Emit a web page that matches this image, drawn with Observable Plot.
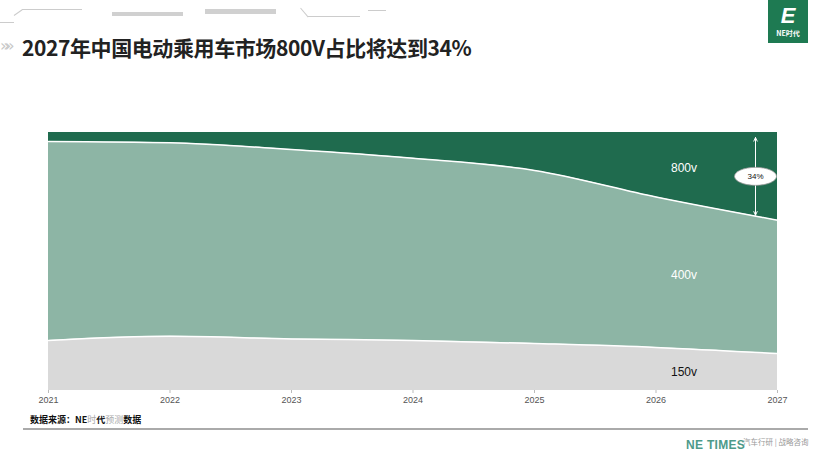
<!DOCTYPE html>
<html>
<head>
<meta charset="utf-8">
<script src="https://cdn.jsdelivr.net/npm/d3@7"></script>
<script src="https://cdn.jsdelivr.net/npm/@observablehq/plot@0.6"></script>
<style>
  html, body { margin: 0; padding: 0; background: #fff; }
  #page { position: relative; width: 831px; height: 468px; overflow: hidden; font-family: "Liberation Sans", Arial, "Noto Sans CJK SC", sans-serif; }
  .abs { position: absolute; }
  #chart { position: absolute; left: 0; top: 120px; }
  #chart [aria-label^="x-axis"] line, #chart [aria-label^="x-axis"] path { stroke: #bbb; }
</style>
</head>
<body>
<div id="page">
  <!-- decorative top strokes -->
  <div class="abs" style="left:0;top:22px;width:14px;height:1px;background:#ccc;"></div>
  <div class="abs" style="left:14px;top:15px;width:10px;height:1px;background:#ccc;transform:rotate(-35deg);transform-origin:left;"></div>
  <div class="abs" style="left:22px;top:9px;width:60px;height:1px;background:#ccc;"></div>
  <div class="abs" style="left:112px;top:12px;width:71px;height:4px;background:#d0d0d0;"></div>
  <div class="abs" style="left:205px;top:9px;width:71px;height:5px;background:#d0d0d0;"></div>
  <div class="abs" style="left:300px;top:8px;width:1px;height:12px;background:#ccc;transform:rotate(-40deg);transform-origin:top;"></div>
  <div class="abs" style="left:308px;top:16px;width:52px;height:1px;background:#ccc;"></div>
  <div class="abs" style="left:368px;top:10px;width:18px;height:1px;background:#ccc;"></div>

  <!-- logo -->
  <div class="abs" style="left:768px;top:0;width:40px;height:43px;background:#1e7a52;color:#fff;text-align:center;">
    <div style="font:italic bold 22px 'Liberation Sans',Arial,sans-serif;line-height:26px;margin-top:3px;">E</div>
    <div style="font:bold 7px 'Noto Sans CJK SC',sans-serif;line-height:9px;">NE时代</div>
  </div>

  <!-- title -->
  <div class="abs" style="left:0;top:36px;font:16px 'DejaVu Sans',sans-serif;color:#c8c8c8;letter-spacing:-5px;">»»</div>
  <div class="abs" style="left:22px;top:32px;font:bold 21px 'Noto Sans CJK SC',sans-serif;color:#222;letter-spacing:-0.4px;white-space:nowrap;">2027年中国电动乘用车市场800V占比将达到34%</div>

  <div id="chart"></div>

  <!-- source -->
  <div class="abs" style="left:30px;top:413px;font:bold 9px 'Noto Sans CJK SC',sans-serif;color:#111;white-space:nowrap;">数据来源：NE<span style="color:#aaa;font-weight:normal;">时</span>代<span style="color:#aaa;font-weight:normal;">预测</span>数据</div>
  <div class="abs" style="left:23px;top:428px;width:785px;height:1.5px;background:#aaa;"></div>

  <!-- footer brand -->
  <div class="abs" style="left:686px;top:438px;font:bold 12px 'Liberation Sans',Arial,sans-serif;color:#4d9a8a;white-space:nowrap;letter-spacing:0.3px;">NE TIMES</div>
  <div class="abs" style="left:743px;top:436px;font:7.5px 'Noto Sans CJK SC',sans-serif;color:#999;white-space:nowrap;">汽车行研 | 战略咨询</div>
</div>
<script>
// ---- data ----
const years = [2021, 2022, 2023, 2024, 2025, 2026, 2027];
const types = ["150v", "400v", "800v"];
const share150 = [19.4, 21.0, 20.0, 19.4, 18.2, 16.7, 14.3];
const share400 = [77.1, 75.0, 73.4, 70.6, 67.1, 58.3, 51.7];
const share800 = [3.5, 4.0, 6.6, 10.0, 14.7, 25.0, 34.0];
const colors = ["#d9d9d9", "#8db5a5", "#1f6b4e"];
const labelColors = ["#111", "#fff", "#fff"];
const labelYear = 2026;

// ---- derived tables ----
const seriesValues = [share150, share400, share800];
const data = types.flatMap((t, i) => years.map((y, j) => ({year: y, type: t, share: seriesValues[i][j]})));

const cum1 = years.map((y, j) => ({year: y, k: "a", v: share150[j]}));
const cum2 = years.map((y, j) => ({year: y, k: "b", v: share150[j] + share400[j]}));
const bounds = cum1.concat(cum2);

const li = years.indexOf(labelYear);
let base = 0;
const labels = types.map((t, i) => {
  const v = seriesValues[i][li];
  const o = {year: labelYear, type: t, y: base + v / 2, color: labelColors[i]};
  base += v;
  return o;
});

const lastYear = years[years.length - 1];
const last800 = share800[share800.length - 1];
const midNote = 100 - last800 / 2;
const note = [{year: lastYear, y: midNote, text: `${last800}%`}];

const ellipse = {
  draw(ctx) {
    const rx = 21, ry = 9, k = 0.5523;
    ctx.moveTo(rx, 0);
    ctx.bezierCurveTo(rx, ry * k, rx * k, ry, 0, ry);
    ctx.bezierCurveTo(-rx * k, ry, -rx, ry * k, -rx, 0);
    ctx.bezierCurveTo(-rx, -ry * k, -rx * k, -ry, 0, -ry);
    ctx.bezierCurveTo(rx * k, -ry, rx, -ry * k, rx, 0);
    ctx.closePath();
  }
};

const chart = Plot.plot({
  width: 831,
  height: 290,
  marginTop: 12,
  marginBottom: 20,
  marginLeft: 48,
  marginRight: 54,
  style: {fontFamily: "'Liberation Sans', Arial, sans-serif", fontSize: "9px", color: "#555", background: "transparent", overflow: "visible"},
  x: {domain: [years[0], lastYear], ticks: years, tickFormat: d => String(d), tickSize: 3, tickPadding: 3, label: null},
  y: {domain: [0, 100], axis: null},
  color: {domain: types, range: colors},
  marks: [
    Plot.areaY(data, {x: "year", y: "share", fill: "type", curve: "monotone-x"}),
    Plot.lineY(bounds, {x: "year", y: "v", z: "k", stroke: "white", strokeWidth: 1.5, curve: "monotone-x"}),
    Plot.text(labels, {x: "year", y: "y", text: "type", fill: "color", dx: 28, dy: 3, fontSize: 12}),
    Plot.arrow(note, {x1: "year", x2: "year", y1: "y", y2: () => 100, dx: -22, stroke: "white", strokeWidth: 1, insetStart: 9, insetEnd: 5, headLength: 6, headAngle: 50}),
    Plot.arrow(note, {x1: "year", x2: "year", y1: "y", y2: () => 100 - last800, dx: -22, stroke: "white", strokeWidth: 1, insetStart: 9, insetEnd: 5, headLength: 6, headAngle: 50}),
    Plot.dot(note, {x: "year", y: "y", dx: -22, symbol: ellipse, fill: "white", stroke: "#999", strokeWidth: 0.8}),
    Plot.text(note, {x: "year", y: "y", dx: -22, text: "text", fill: "#111", fontSize: 8})
  ]
});
document.getElementById("chart").appendChild(chart);
</script>
</body>
</html>
